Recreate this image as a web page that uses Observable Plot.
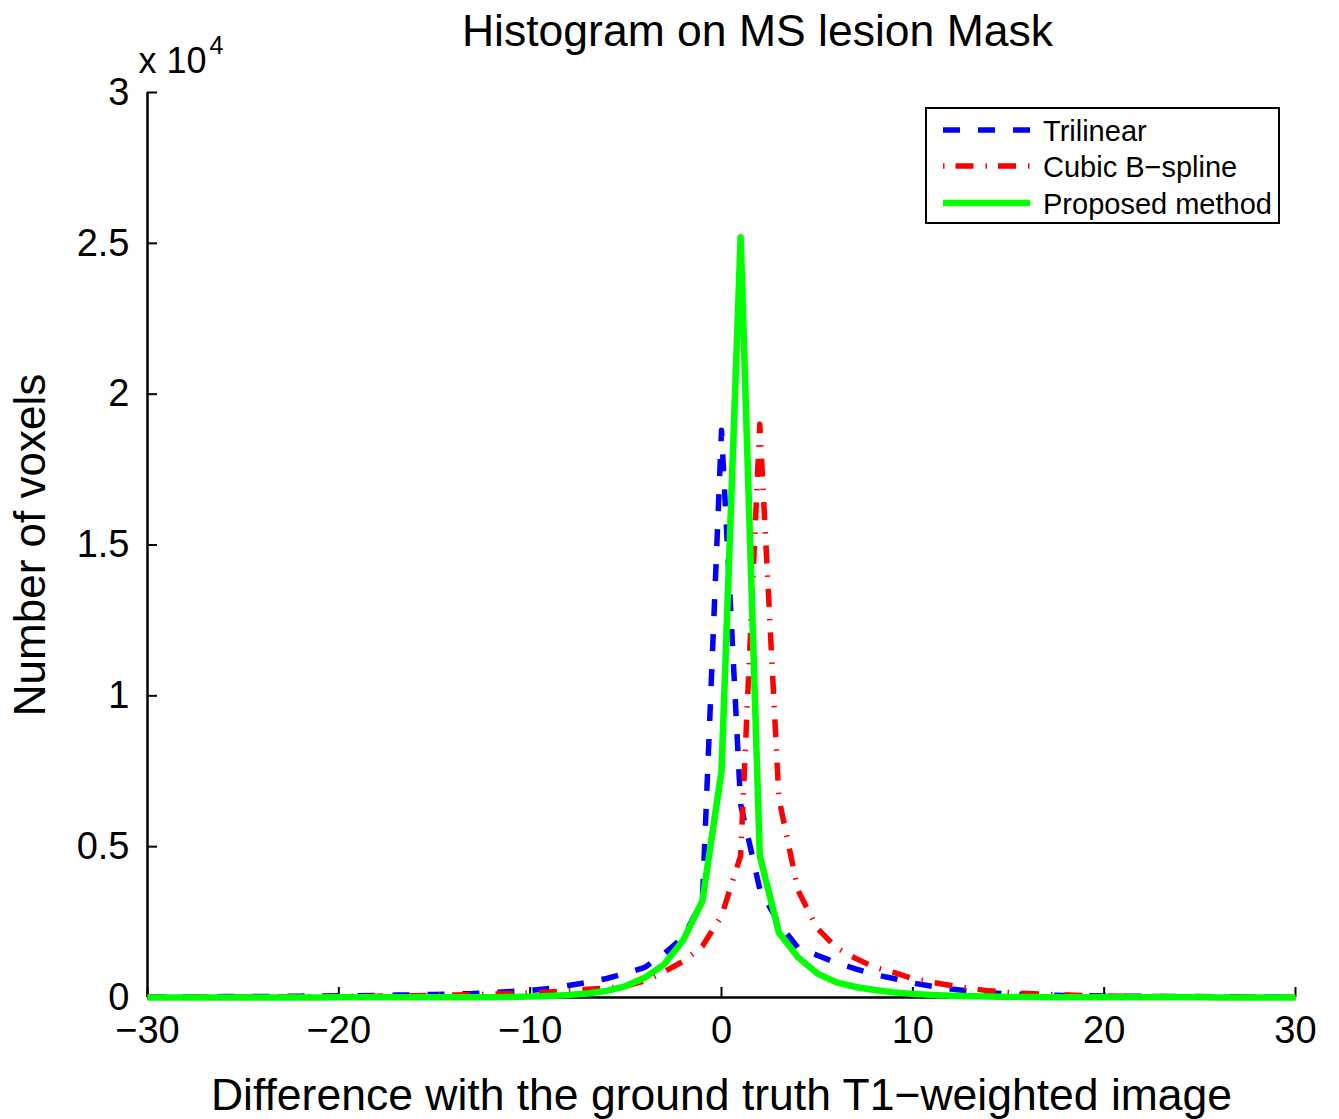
<!DOCTYPE html>
<html>
<head>
<meta charset="utf-8">
<script src="https://cdn.jsdelivr.net/npm/d3@7"></script>
<script src="https://cdn.jsdelivr.net/npm/@observablehq/plot@0.6"></script>
<style>
  html, body { margin: 0; padding: 0; background: #fff; }
  #wrap { position: relative; width: 1339px; height: 1119px; }
  #legend { position: absolute; left: 925px; top: 107px; }
</style>
</head>
<body>
<div id="wrap"></div>
<script>
// Difference values (histogram bin centres)
const diffs = [-30,-29,-28,-27,-26,-25,-24,-23,-22,-21,-20,-19,-18,-17,-16,-15,-14,-13,-12,-11,-10,-9,-8,-7,-6,-5,-4,-3,-2,-1,0,1,2,3,4,5,6,7,8,9,10,11,12,13,14,15,16,17,18,19,20,21,22,23,24,25,26,27,28,29,30];

// Number of voxels per bin
const trilinear = [20,20,20,25,30,30,35,40,45,50,55,60,70,80,90,100,115,130,165,200,230,300,400,500,630,800,1000,1450,2000,3200,18800,6400,3600,2450,1650,1400,1150,950,760,630,480,370,280,210,160,120,100,80,70,60,50,45,40,35,30,30,25,25,20,20,20];
const cubicBspline = [10,10,10,15,15,20,20,25,25,30,35,40,45,50,60,70,80,90,110,130,150,180,230,270,310,380,550,850,1200,1700,2700,4700,19000,6600,3550,2300,1650,1300,1000,830,630,500,400,300,220,170,130,100,80,60,50,40,35,30,25,20,20,15,15,10,10];
const proposed = [0,0,0,0,0,0,0,0,0,0,5,5,5,5,5,5,10,10,10,20,30,50,80,130,220,380,660,1100,1900,3200,7500,25200,4700,2150,1330,800,500,350,250,170,120,80,60,40,30,20,15,10,10,5,5,5,5,5,5,5,0,0,0,0,0];

const seriesNames = ["Trilinear", "Cubic B\u2212spline", "Proposed method"];
const xTicks = [-30,-20,-10,0,10,20,30];
const yTicks = [0,5000,10000,15000,20000,25000,30000];
const yTickLabels = ["0","0.5","1","1.5","2","2.5","3"];

const titleText = "Histogram on MS lesion Mask";
const xLabel = "Difference with the ground truth T1\u2212weighted image";
const yLabel = "Number of voxels";

const toRows = (vals) => diffs.map((d, i) => ({x: d, y: vals[i]}));

const W = 1339, H = 1119;
const mL = 147, mR = 44, mT = 92, mB = 122;
const frameW = W - mL - mR, frameH = H - mT - mB;
const tickLen = 10;

const styles = {
  blue: {stroke: "#0000ff", strokeWidth: 5.5, strokeDasharray: "17,18"},
  red: {stroke: "#ff0000", strokeWidth: 5.5, strokeDasharray: "18,12,1.5,12"},
  green: {stroke: "#00ff00", strokeWidth: 6.5}
};

const fmtX = d => d < 0 ? "\u2212" + (-d) : String(d);

const chart = Plot.plot({
  width: W,
  height: H,
  marginLeft: mL, marginRight: mR, marginTop: mT, marginBottom: mB,
  x: {domain: [-30, 30]},
  y: {domain: [0, 30000]},
  style: {fontFamily: "'Liberation Sans', Arial, Helvetica, sans-serif", background: "#fff", color: "#000"},
  marks: [
    // axis tick marks (inward)
    Plot.ruleX(xTicks, {x: d => d, stroke: "#000", strokeWidth: 2, insetTop: frameH - tickLen}),
    Plot.ruleY(yTicks, {y: d => d, stroke: "#000", strokeWidth: 2, insetRight: frameW - tickLen}),
    // axis lines
    Plot.ruleY([0], {stroke: "#000", strokeWidth: 2.5}),
    Plot.ruleX([-30], {stroke: "#000", strokeWidth: 2.5}),
    // tick labels
    Plot.axisX(xTicks, {tickSize: 0, tickPadding: 19, fontSize: 38, tickFormat: fmtX, label: null}),
    Plot.axisY(yTicks, {tickSize: 0, tickPadding: 18, fontSize: 38, tickFormat: d => yTickLabels[yTicks.indexOf(d)], label: null}),
    // data lines
    Plot.line(toRows(trilinear), {x: "x", y: "y", ...styles.blue, strokeLinecap: "butt", strokeLinejoin: "round"}),
    Plot.line(toRows(cubicBspline), {x: "x", y: "y", ...styles.red, strokeLinecap: "butt", strokeLinejoin: "round"}),
    Plot.line(toRows(proposed), {x: "x", y: "y", ...styles.green, strokeLinecap: "butt", strokeLinejoin: "round"}),
    // exponent
    Plot.text(["x 10"], {frameAnchor: "top-left", dx: -9, dy: -31, textAnchor: "start", lineAnchor: "middle", fontSize: 36, fill: "#000"}),
    Plot.text(["4"], {frameAnchor: "top-left", dx: 62, dy: -47, textAnchor: "start", lineAnchor: "middle", fontSize: 25, fill: "#000"}),
    // title and axis labels
    Plot.text([titleText], {frameAnchor: "top", dx: 36, dy: -61, textAnchor: "middle", lineAnchor: "middle", fontSize: 44.5, fill: "#000"}),
    Plot.text([xLabel], {frameAnchor: "bottom", dy: 98, textAnchor: "middle", lineAnchor: "middle", fontSize: 44.5, fill: "#000"}),
    Plot.text([yLabel], {frameAnchor: "left", dx: -117, rotate: -90, textAnchor: "middle", lineAnchor: "middle", fontSize: 44, fill: "#000"})
  ]
});

const wrap = document.getElementById("wrap");
wrap.appendChild(chart);

// Legend overlay
const ns = "http://www.w3.org/2000/svg";
const lg = document.createElementNS(ns, "svg");
lg.setAttribute("id", "legend");
lg.setAttribute("width", 356);
lg.setAttribute("height", 118);
lg.style.fontFamily = "'Liberation Sans', Arial, Helvetica, sans-serif";
const box = document.createElementNS(ns, "rect");
box.setAttribute("x", 1); box.setAttribute("y", 1);
box.setAttribute("width", 353); box.setAttribute("height", 115);
box.setAttribute("fill", "#fff"); box.setAttribute("stroke", "#000"); box.setAttribute("stroke-width", 2);
lg.appendChild(box);
const legendStyles = [styles.blue, {...styles.red, strokeDasharray: "1.5,11,18,12"}, styles.green];
const rowsY = [23, 59, 96];
seriesNames.forEach((name, i) => {
  const s = legendStyles[i];
  const ln = document.createElementNS(ns, "line");
  ln.setAttribute("x1", 18); ln.setAttribute("x2", 105);
  ln.setAttribute("y1", rowsY[i]); ln.setAttribute("y2", rowsY[i]);
  ln.setAttribute("stroke", s.stroke);
  ln.setAttribute("stroke-width", s.strokeWidth);
  if (s.strokeDasharray) ln.setAttribute("stroke-dasharray", s.strokeDasharray);
  lg.appendChild(ln);
  const t = document.createElementNS(ns, "text");
  t.setAttribute("x", 118); t.setAttribute("y", rowsY[i] + 10.5);
  t.setAttribute("font-size", 29);
  t.setAttribute("fill", "#000");
  t.textContent = name;
  lg.appendChild(t);
});
wrap.appendChild(lg);
</script>
</body>
</html>
